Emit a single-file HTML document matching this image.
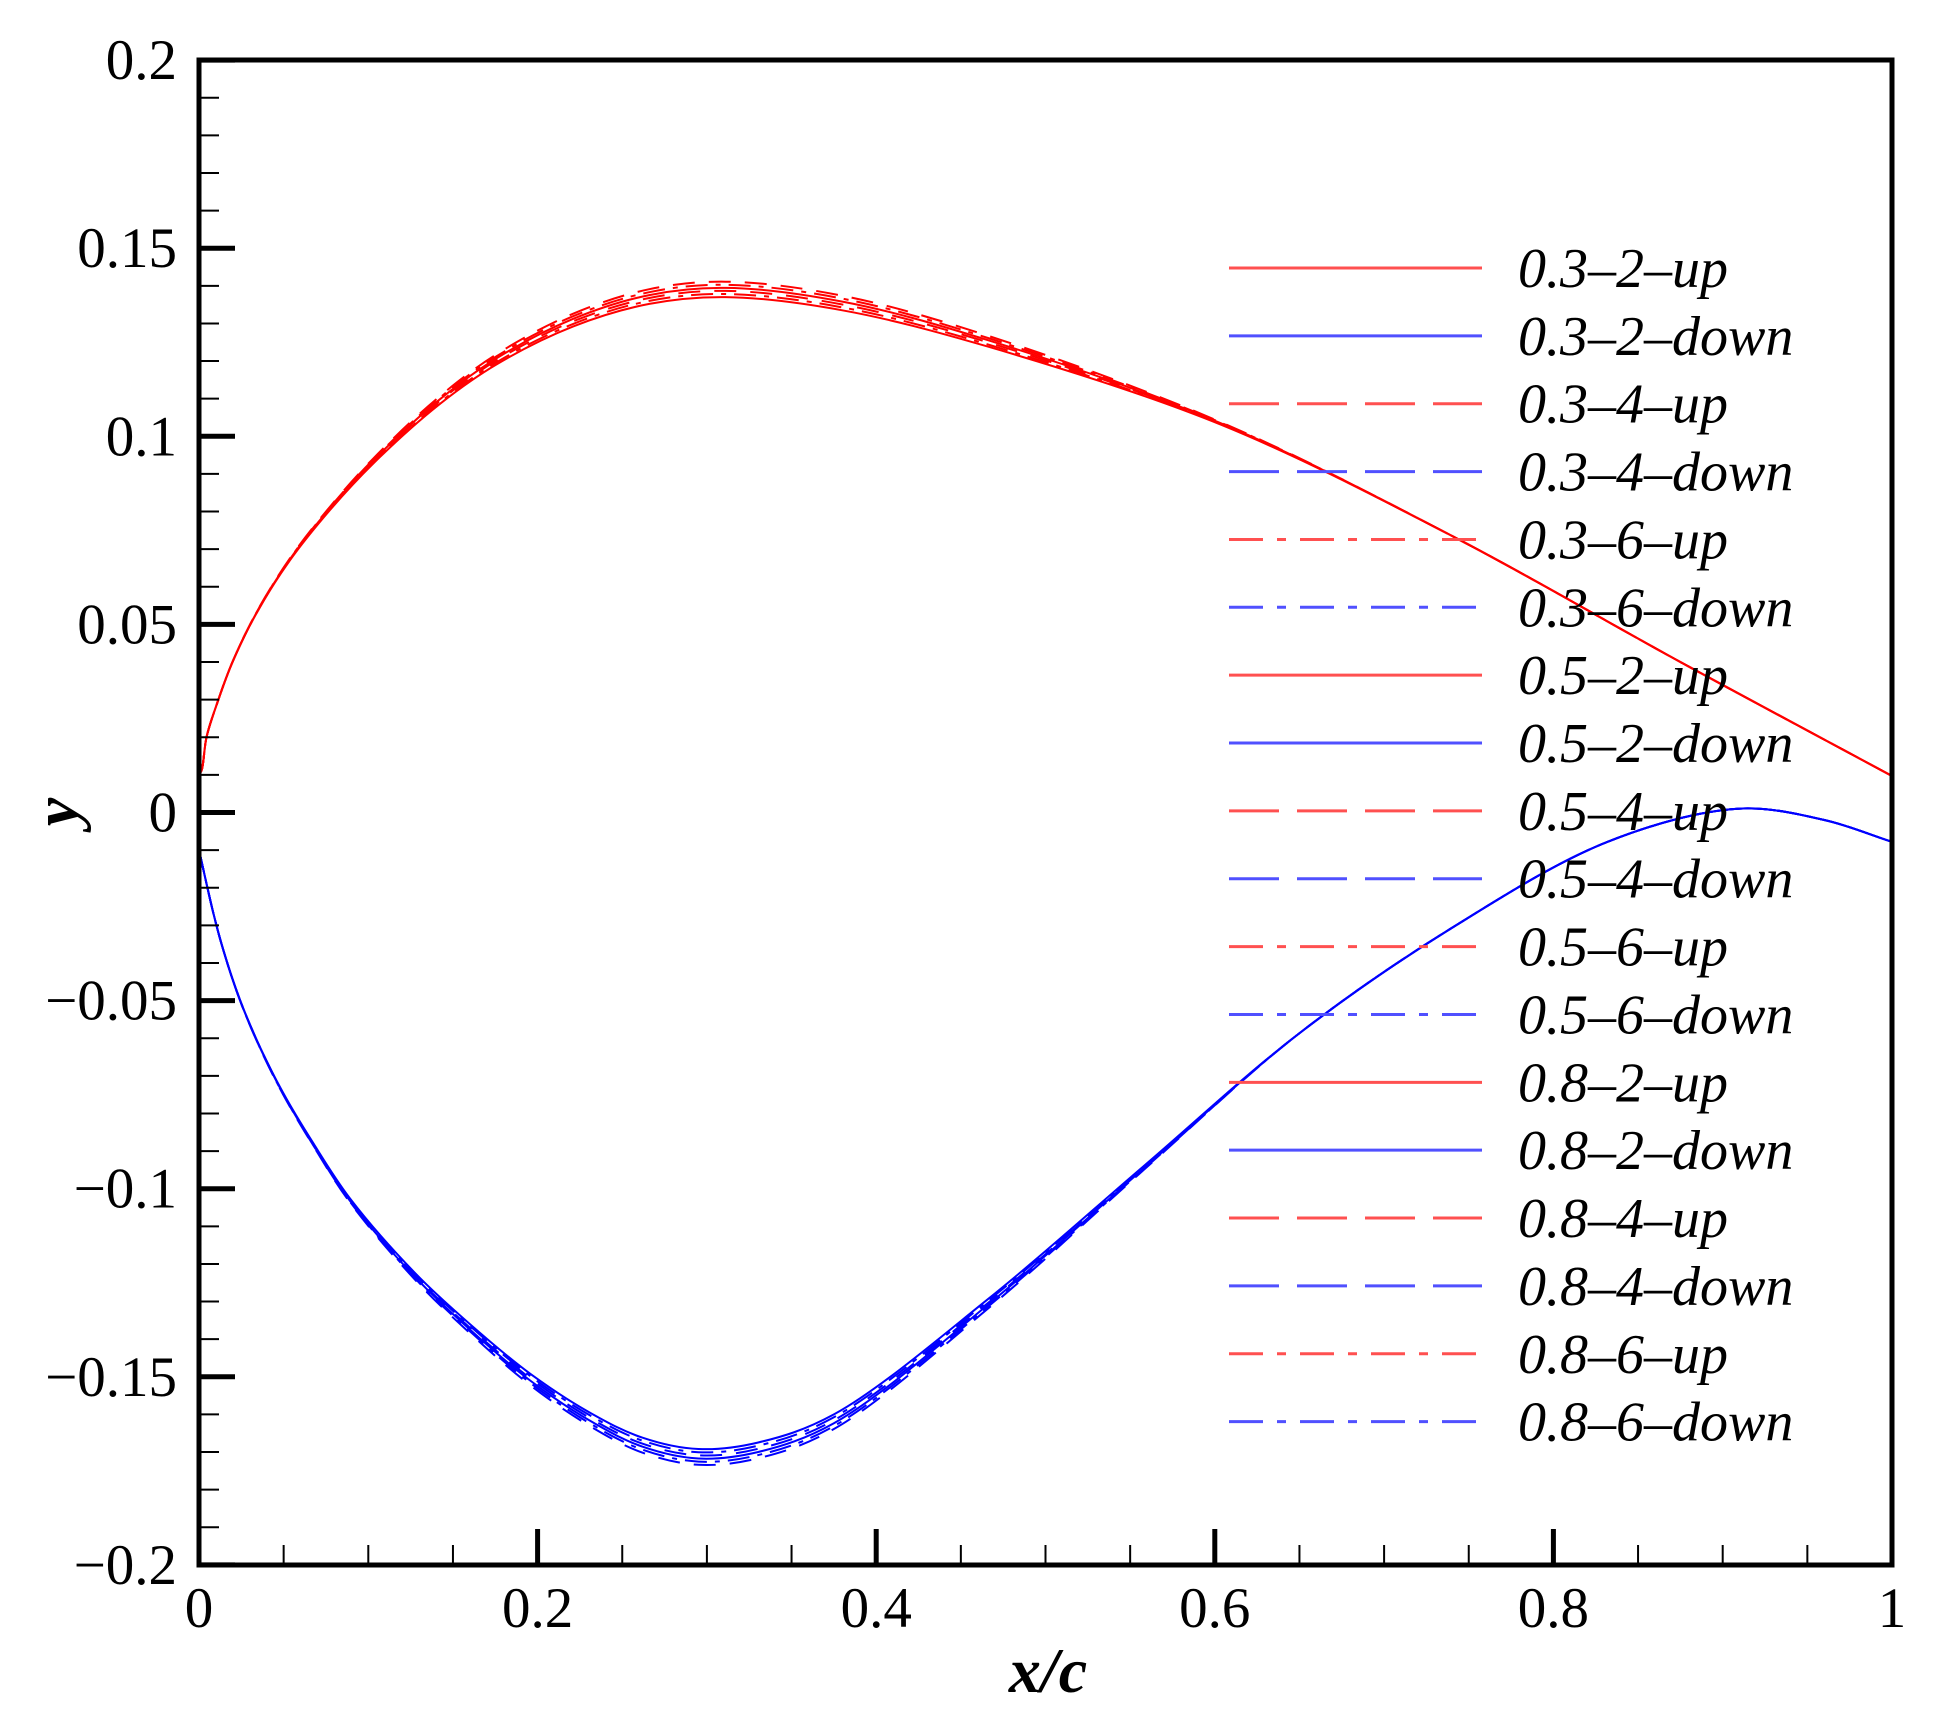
<!DOCTYPE html>
<html><head><meta charset="utf-8"><style>
html,body{margin:0;padding:0;background:#fff;}
svg{display:block;}
</style></head><body>
<svg id="s" xmlns="http://www.w3.org/2000/svg" width="1933" height="1724" viewBox="0 0 1933 1724">
<rect width="1933" height="1724" fill="#fff"/>
<g id="curves" fill="none" stroke-width="2"></g>
<g id="ticks" stroke="#000"></g>
<rect x="199" y="60" width="1693" height="1505" fill="none" stroke="#000" stroke-width="5"/>
<g id="labels" font-family="Liberation Serif, serif" font-size="57" fill="#000"></g>
<g id="legend" font-family="Liberation Serif, serif" font-size="56" font-style="italic" fill="#000"></g>
<text x="1048" y="1692" font-family="Liberation Serif, serif" font-size="64" font-weight="bold" font-style="italic" text-anchor="middle">x/c</text>
<text transform="translate(63,812) rotate(-90)" font-family="Liberation Serif, serif" font-size="64" font-weight="bold" font-style="italic" text-anchor="middle" dominant-baseline="middle">y</text>
</svg>
<script>
var NS="http://www.w3.org/2000/svg";
function X(v){return 199+v*1693;}
function Y(v){return 812.5-v*3762;}
function el(p,t,a,txt){var e=document.createElementNS(NS,t);for(var k in a)e.setAttribute(k,a[k]);if(txt!==undefined)e.textContent=txt;document.getElementById(p).appendChild(e);return e;}
for(var i=0;i<=40;i++){var v=-0.2+i*0.01;var maj=(i%5==0);
 el('ticks','line',{x1:199,x2:199+(maj?36:20),y1:Y(v),y2:Y(v),'stroke-width':maj?5:2});
 if(maj){var s=(Math.round(v*100)/100);var t=s==0?"0":(s<0?"\u2212"+String(-s):String(s));
  el('labels','text',{x:177,y:Y(v)+19,'text-anchor':'end'},t);}
}
for(var i=0;i<=20;i++){var v=i*0.05;var maj=(i%4==0);
 el('ticks','line',{x1:X(v),x2:X(v),y1:1565,y2:1565-(maj?36:20),'stroke-width':maj?5:2});
 if(maj){var s=Math.round(v*10)/10;el('labels','text',{x:X(v),y:1627,'text-anchor':'middle'},String(s));}
}
var up=[[0,0.010],[0.0016,0.0113],[0.0045,0.0201],[0.0114,0.0299],[0.0203,0.0405],[0.034,0.053],[0.0538,0.0671],[0.0774,0.0804],[0.103,0.0928],[0.142,0.1085],[0.176,0.1192],[0.221,0.1292],[0.266,0.1352],[0.311,0.137],[0.38,0.1335],[0.467,0.1237],[0.604,0.103],[0.741,0.0733],[0.877,0.0395],[1,0.0097]];
var dn=[[0,-0.010],[0.0085,-0.0268],[0.0144,-0.0366],[0.0242,-0.0498],[0.036,-0.0623],[0.0498,-0.0746],[0.0675,-0.0879],[0.0892,-0.1026],[0.128,-0.1226],[0.16,-0.136],[0.196,-0.1493],[0.232,-0.1598],[0.262,-0.1662],[0.295,-0.1692],[0.33,-0.1675],[0.375,-0.160],[0.467,-0.129],[0.558,-0.094],[0.649,-0.059],[0.741,-0.0304],[0.832,-0.0078],[0.909,0.001],[0.96,-0.002],[1,-0.0078]];
function path(pts,k){
 var P=pts.map(function(p){var w=p[0]<0.65?Math.sin(Math.PI*Math.min(p[0]/0.65,1)):0;return [X(p[0]),Y(p[1]*(1+k*w))];});
 var d="M"+P[0][0].toFixed(1)+","+P[0][1].toFixed(1);
 for(var i=0;i<P.length-1;i++){
  var p0=P[i-1]||P[i],p1=P[i],p2=P[i+1],p3=P[i+2]||P[i+1];
  var d01=Math.sqrt(Math.hypot(p1[0]-p0[0],p1[1]-p0[1]))||1,d12=Math.sqrt(Math.hypot(p2[0]-p1[0],p2[1]-p1[1])),d23=Math.sqrt(Math.hypot(p3[0]-p2[0],p3[1]-p2[1]))||1;
  var m1=[0,0],m2=[0,0];
  for(var c=0;c<2;c++){
   m1[c]=d12*((p1[c]-p0[c])/d01-(p2[c]-p0[c])/(d01+d12)+(p2[c]-p1[c])/d12);
   m2[c]=d12*((p2[c]-p1[c])/d12-(p3[c]-p1[c])/(d12+d23)+(p3[c]-p2[c])/d23);
   if(i==0)m1[c]=p2[c]-p1[c];
   if(i==P.length-2)m2[c]=p2[c]-p1[c];
  }
  d+=" C"+(p1[0]+m1[0]/3).toFixed(1)+","+(p1[1]+m1[1]/3).toFixed(1)+" "+(p2[0]-m2[0]/3).toFixed(1)+","+(p2[1]-m2[1]/3).toFixed(1)+" "+p2[0].toFixed(1)+","+p2[1].toFixed(1);
 }
 return d;}
var dashes=["none","22,14","22,8,5,8"];
var ks=[0,0.01,0.02,0.015,0.025,0.005];
for(var j=0;j<6;j++){
 el('curves','path',{d:path(up,ks[j]*1.2),stroke:'#ff0000','stroke-dasharray':dashes[j%3]});
 el('curves','path',{d:path(dn,ks[j]),stroke:'#0000ff','stroke-dasharray':dashes[j%3]});
}
var names=["0.3","0.5","0.8"],ns=["2","4","6"];var r=0;
var ld=["none","50,18","34,14,9,14"];
for(var a=0;a<3;a++)for(var b=0;b<3;b++)for(var c=0;c<2;c++){
 var y=268+67.86*r;
 el('legend','line',{x1:1229,x2:1482,y1:y,y2:y,stroke:c==0?'#ff5050':'#5050ff','stroke-width':3,'stroke-dasharray':ld[b]});
 el('legend','text',{x:1518,y:y+19},names[a]+"\u2013"+ns[b]+"\u2013"+(c==0?"up":"down"));
 r++;}
</script>
</body></html>
